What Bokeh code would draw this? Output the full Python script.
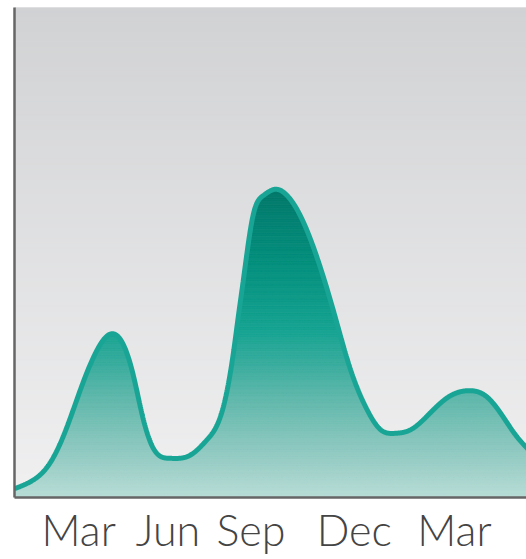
import numpy as np
from bokeh.plotting import figure
from bokeh.models import FixedTicker, Range1d
from bokeh.embed import file_html
from bokeh.resources import INLINE

# ---- data: month offset from March, relative value ----
months = [-2.05, -1.47, -0.93, -0.38, 0.13, 0.58, 0.99, 1.41, 1.73, 2.05, 2.37, 2.91,
          3.55, 4.10, 4.58, 4.80, 4.96, 5.09, 5.25, 5.57, 5.89, 6.27, 6.66, 7.07,
          7.62, 8.13, 8.67, 9.22, 9.63, 10.11, 10.59, 11.01, 11.78, 12.42, 13.06,
          13.57, 14.02, 14.30, 14.75]
values = [1.8, 3.5, 6.9, 14.3, 23.3, 30.0, 33.3, 31.4, 25.3, 16.3, 10.2, 8.0,
          8.6, 11.8, 17.6, 23.9, 30.4, 36.6, 44.0, 57.6, 61.6, 62.9, 61.6, 57.6,
          48.8, 38.2, 26.3, 17.8, 13.9, 13.1, 13.8, 15.9, 20.4, 21.8, 20.4,
          16.3, 12.2, 10.2, 7.1]
tick_positions = [0, 2.85, 5.5, 8.8, 12.0]
tick_labels = ["Mar", "Jun", "Sep", "Dec", "Mar"]

X_START, X_END = -2.05, 14.30
Y_START, Y_END = 0.0, 100.0


def natural_spline(x, y, n=1200):
    x = np.asarray(x, float)
    y = np.asarray(y, float)
    m = len(x)
    h = np.diff(x)
    A = np.zeros((m, m))
    r = np.zeros(m)
    A[0, 0] = 1
    A[-1, -1] = 1
    for i in range(1, m - 1):
        A[i, i - 1] = h[i - 1]
        A[i, i] = 2 * (h[i - 1] + h[i])
        A[i, i + 1] = h[i]
        r[i] = 6 * ((y[i + 1] - y[i]) / h[i] - (y[i] - y[i - 1]) / h[i - 1])
    M = np.linalg.solve(A, r)
    xx = np.linspace(x[0], x[-1], n)
    idx = np.clip(np.searchsorted(x, xx) - 1, 0, m - 2)
    x0, x1 = x[idx], x[idx + 1]
    hh = x1 - x0
    a = (x1 - xx) / hh
    b = (xx - x0) / hh
    yy = (a * y[idx] + b * y[idx + 1]
          + ((a ** 3 - a) * M[idx] + (b ** 3 - b) * M[idx + 1]) * hh ** 2 / 6)
    return xx, yy


def hex_to_rgb(h):
    h = h.lstrip("#")
    return np.array([int(h[i:i + 2], 16) for i in (0, 2, 4)], float)


def interp_color(v, stops):
    vs = [s[0] for s in stops]
    cs = np.array([hex_to_rgb(s[1]) for s in stops])
    r = np.interp(v, vs, cs[:, 0])
    g = np.interp(v, vs, cs[:, 1])
    b = np.interp(v, vs, cs[:, 2])
    return "#%02x%02x%02x" % (int(round(r)), int(round(g)), int(round(b)))


cx, cy = natural_spline(months, values)

p = figure(width=526, height=559, output_backend="svg", toolbar_location=None,
           x_range=Range1d(X_START, X_END), y_range=Range1d(Y_START, Y_END),
           min_border_left=14, min_border_right=0, min_border_top=7, min_border_bottom=62)
p.background_fill_color = "#eeeeef"
p.border_fill_color = "white"
p.outline_line_color = None
p.grid.visible = False

# background vertical gradient (light at bottom, darker grey at top)
bg_stops = [(0, "#f0f0f1"), (100, "#d1d2d4")]
nb = 100
edges = np.linspace(Y_START, Y_END, nb + 1)
bg_cols = [interp_color((edges[i] + edges[i + 1]) / 2, bg_stops) for i in range(nb)]
p.quad(left=[X_START] * nb, right=[X_END] * nb, bottom=edges[:-1], top=edges[1:],
       fill_color=bg_cols, line_color=bg_cols, line_width=1)

# area with vertical teal gradient
area_stops = [(0, "#b9ddd7"), (7.5, "#98cdc5"), (20, "#62b8ac"), (34, "#17a492"),
              (48, "#06907e"), (63, "#02786a"), (100, "#02786a")]
na = 90
aedges = np.linspace(0, 64, na + 1)
xs, ys, cols = [], [], []
for i in range(na):
    a, b = aedges[i], aedges[i + 1]
    top = np.minimum(cy, b)
    bot = np.minimum(cy, a)
    xs.append(list(cx) + list(cx[::-1]))
    ys.append(list(top) + list(bot[::-1]))
    cols.append(interp_color((a + b) / 2, area_stops))
p.patches(xs, ys, fill_color=cols, line_color=cols, line_width=1)

p.line(cx, cy, line_color="#19a595", line_width=5)

# axes
p.xaxis.ticker = FixedTicker(ticks=tick_positions)
p.xaxis.major_label_overrides = {t: l for t, l in zip(tick_positions, tick_labels)}
p.xaxis.major_tick_line_color = None
p.xaxis.minor_tick_line_color = None
p.xaxis.major_tick_out = 0
p.xaxis.major_tick_in = 0
p.xaxis.minor_tick_out = 0
p.xaxis.minor_tick_in = 0
p.xaxis.major_label_text_font = "Lato Light, Lato"
p.xaxis.major_label_text_font_size = "43px"
p.xaxis.major_label_text_line_height = 1.0
p.xaxis.major_label_text_color = "#444444"
p.xaxis.major_label_standoff = 6
p.xaxis.axis_line_width = 2.5
p.xaxis.axis_line_color = "#666666"

p.yaxis.ticker = FixedTicker(ticks=[])
p.yaxis.major_tick_line_color = None
p.yaxis.minor_tick_line_color = None
p.yaxis.major_label_text_font_size = "0px"
p.yaxis.major_label_standoff = 0
p.yaxis.axis_line_width = 2.5
p.yaxis.axis_line_color = "#666666"

open("out.html", "w").write(file_html(p, INLINE))
